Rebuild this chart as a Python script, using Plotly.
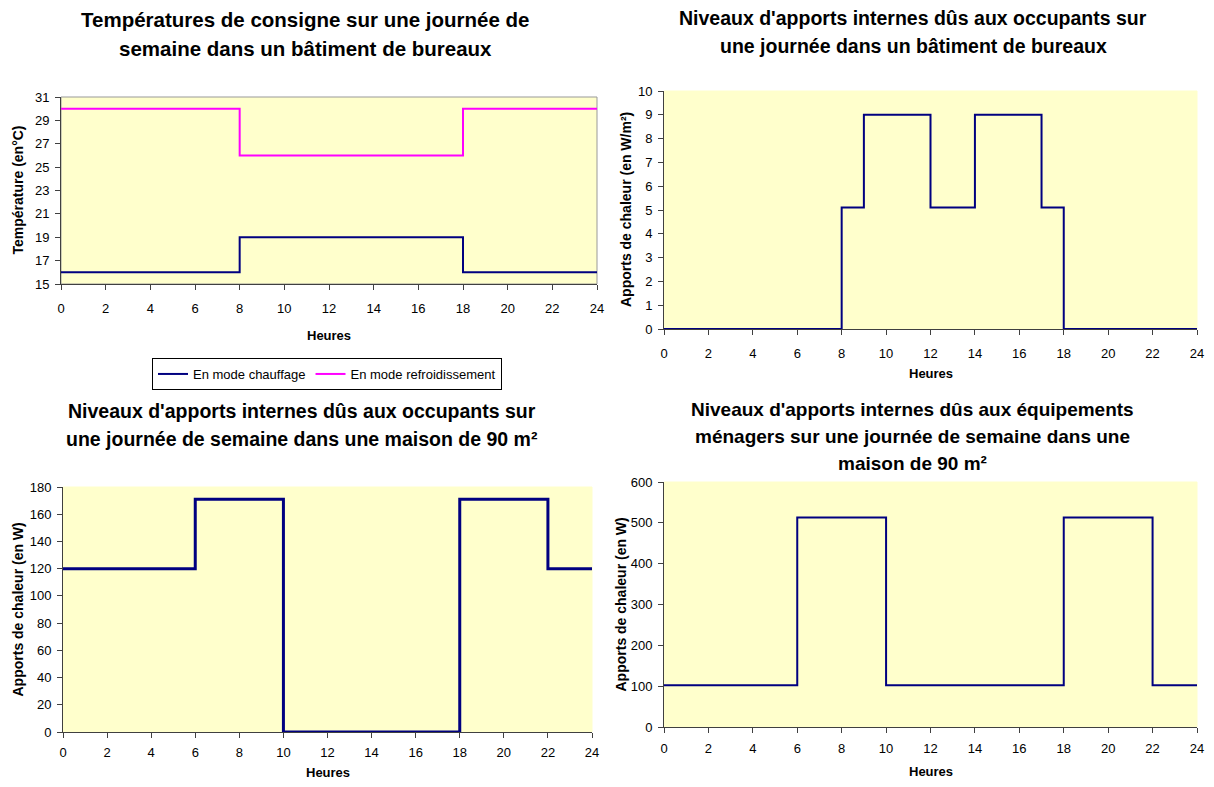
import plotly.graph_objects as go

hours = list(range(25))

# Chart 1: set-point temperatures (office building, weekday)
temp_heating = [16]*8 + [19]*10 + [16]*7
temp_cooling = [30]*8 + [26]*10 + [30]*7

# Chart 2: occupant internal gains office (W/m²)
office_gains = [0]*8 + [5.1] + [9]*3 + [5.1]*2 + [9]*3 + [5.1] + [0]*7

# Chart 3: occupant internal gains house 90 m² (W)
house_occ = [120]*6 + [171]*4 + [0]*8 + [171]*4 + [120]*3

# Chart 4: appliance internal gains house 90 m² (W)
house_app = [102]*6 + [513]*4 + [102]*8 + [513]*4 + [102]*3

title_lines = [
    ["Températures de consigne sur une journée de", "semaine dans un bâtiment de bureaux"],
    ["Niveaux d'apports internes dûs aux occupants sur", "une journée dans un bâtiment de bureaux"],
    ["Niveaux d'apports internes dûs aux occupants sur", "une journée de semaine dans une maison de 90 m²"],
    ["Niveaux d'apports internes dûs aux équipements", "ménagers sur une journée de semaine dans une", "maison de 90 m²"],
]
ytitles = ["Température (en°C)", "Apports de chaleur (en W/m²)",
           "Apports de chaleur (en W)", "Apports de chaleur (en W)"]
xtitle = "Heures"
legend_names = ["En mode chauffage", "En mode refroidissement"]

# page has an 8px body margin; figure sized to fit the window
OFF = 8
W, H = 1214 - 2 * OFF, 787 - 2 * OFF
def fx(px): return (px - OFF) / W
def fy(py): return 1 - (py - OFF) / H

NAVY = "#000080"
MAG = "#FF00FF"
BG = "#FFFFCC"
AX = "#404040"
FONT = "Liberation Sans, Arial, sans-serif"

fig = go.Figure()
fig.add_trace(go.Scatter(x=hours, y=temp_heating, mode="lines", line=dict(color=NAVY, width=2, shape="hv"),
                         name=legend_names[0], xaxis="x", yaxis="y", showlegend=True))
fig.add_trace(go.Scatter(x=hours, y=temp_cooling, mode="lines", line=dict(color=MAG, width=2, shape="hv"),
                         name=legend_names[1], xaxis="x", yaxis="y", showlegend=True))
fig.add_trace(go.Scatter(x=hours, y=office_gains, mode="lines", line=dict(color=NAVY, width=2, shape="hv"),
                         xaxis="x2", yaxis="y2", showlegend=False))
fig.add_trace(go.Scatter(x=hours, y=house_occ, mode="lines", line=dict(color=NAVY, width=3, shape="hv"),
                         xaxis="x3", yaxis="y3", showlegend=False))
fig.add_trace(go.Scatter(x=hours, y=house_app, mode="lines", line=dict(color=NAVY, width=2, shape="hv"),
                         xaxis="x4", yaxis="y4", showlegend=False))

# plot areas in reference pixels: (x_left, x_right), (y_bottom, y_top)
domains = [
    ((61, 597), (284, 97)),
    ((664, 1197), (329, 91)),
    ((63, 592), (732, 487)),
    ((664, 1197), (727, 482)),
]
yranges = [(15, 31, 2), (0, 10, 1), (0, 180, 20), (0, 600, 100)]
title_pos = [  # center x, line center ys, font size
    (305, [20, 48], 20.5),
    (913, [18, 46], 19.5),
    (302, [411, 439], 19.5),
    (912, [409, 436, 463], 19),
]
xtitle_y = [335, 373, 772, 771]
ytitle_x = [17, 626, 17, 620]
xlabel_standoff = [7, 7, 3, 4]

layout = dict(
    width=W, height=H, margin=dict(l=0, r=0, t=0, b=0, autoexpand=False),
    paper_bgcolor="white", plot_bgcolor="rgba(0,0,0,0)",
    font=dict(family=FONT, color="black", size=13),
    showlegend=True,
    legend=dict(orientation="h", x=fx(327), y=fy(374), xanchor="center", yanchor="middle",
                bordercolor="black", borderwidth=1, font=dict(size=13, family=FONT),
                itemwidth=30, tracegroupgap=0),
)

annotations = []
shapes = []
for i, ((x0, x1), (yb, yt)) in enumerate(domains):
    sfx = "" if i == 0 else str(i + 1)
    lo, hi, step = yranges[i]
    layout["xaxis" + sfx] = dict(
        domain=[fx(x0), fx(x1)], range=[0, 24], tickmode="linear", tick0=0, dtick=2,
        showgrid=False, zeroline=False, showline=True, linecolor=AX, linewidth=1,
        ticks="outside", ticklen=5, tickcolor=AX, automargin=False,
        ticklabelstandoff=xlabel_standoff[i],
        anchor="y" + sfx, tickfont=dict(size=13), fixedrange=True,
    )
    layout["yaxis" + sfx] = dict(
        domain=[fy(yb), fy(yt)], range=[lo, hi], tickmode="linear", tick0=lo, dtick=step,
        showgrid=False, zeroline=False, showline=True, linecolor=AX, linewidth=1,
        ticks="outside", ticklen=5, tickcolor=AX, automargin=False, ticklabelstandoff=3,
        anchor="x" + sfx, tickfont=dict(size=13), fixedrange=True,
    )
    cx, ys, fs = title_pos[i]
    for line, ly in zip(title_lines[i], ys):
        annotations.append(dict(
            text="<b>" + line + "</b>", x=fx(cx), y=fy(ly), xref="paper", yref="paper",
            xanchor="center", yanchor="middle", showarrow=False,
            font=dict(size=fs, family=FONT, color="black"),
        ))
    annotations.append(dict(
        text="<b>" + xtitle + "</b>", x=fx((x0 + x1) / 2), y=fy(xtitle_y[i]), xref="paper", yref="paper",
        xanchor="center", yanchor="middle", showarrow=False, font=dict(size=13, family=FONT),
    ))
    annotations.append(dict(
        text="<b>" + ytitles[i] + "</b>", x=fx(ytitle_x[i]), y=fy((yb + yt) / 2), xref="paper", yref="paper",
        xanchor="center", yanchor="middle", showarrow=False, textangle=-90,
        font=dict(size=14, family=FONT),
    ))
    shapes.append(dict(type="rect", xref="paper", yref="paper", x0=fx(x0), x1=fx(x1), y0=fy(yb), y1=fy(yt),
                       fillcolor=BG, line=dict(color="#999999" if i == 0 else BG, width=1), layer="below"))

layout["annotations"] = annotations
layout["shapes"] = shapes

fig.update_layout(**layout)
fig.write_html("out.html")
